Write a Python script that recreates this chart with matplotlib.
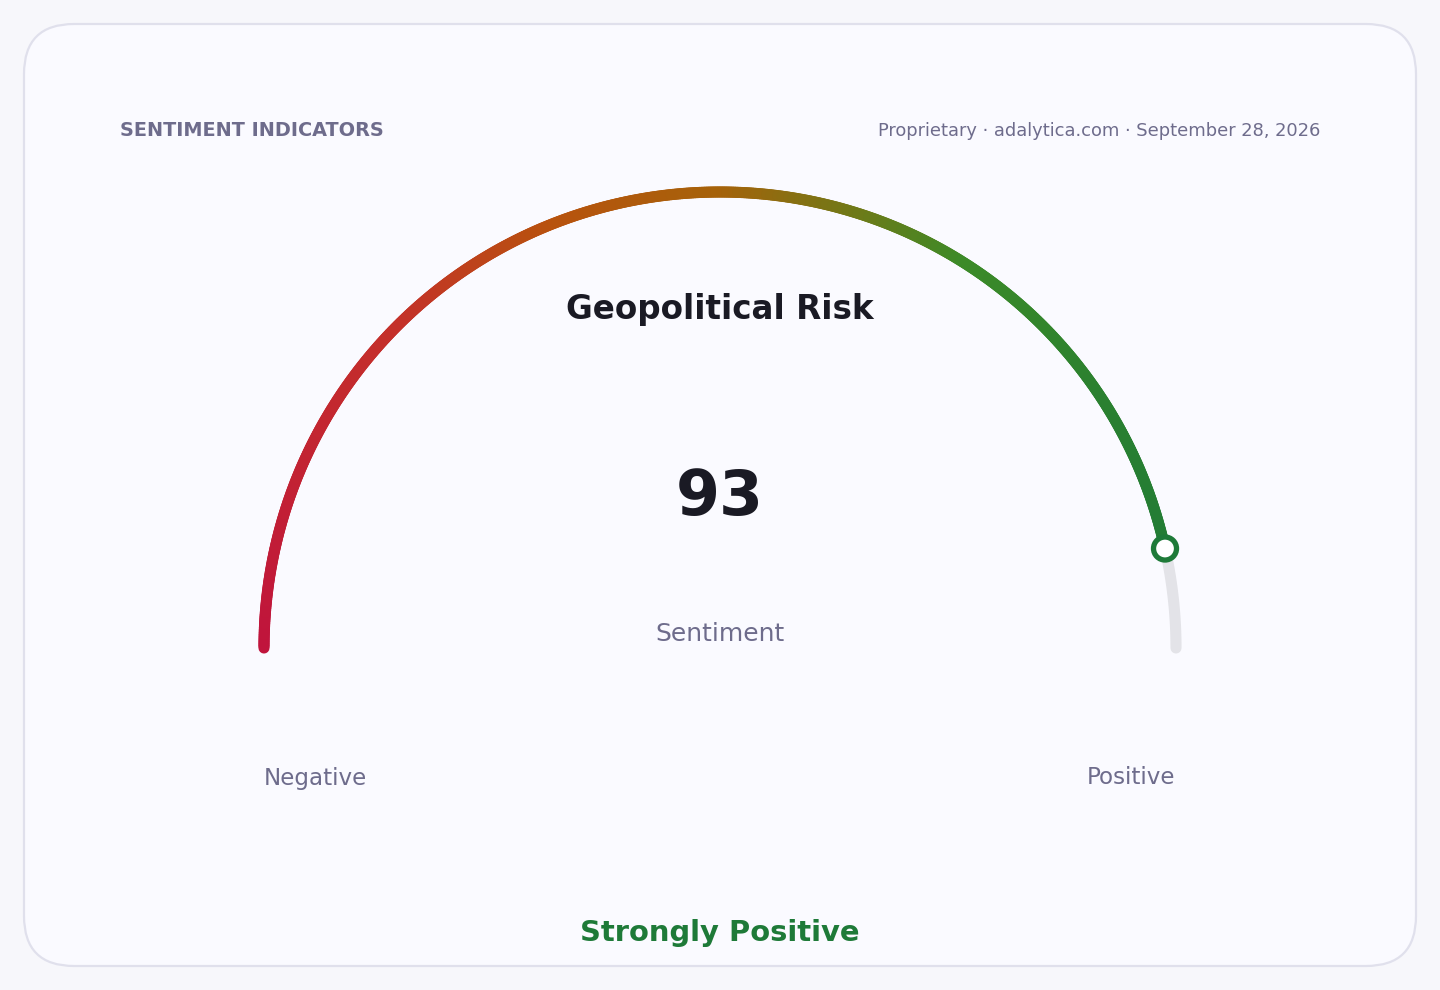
import matplotlib
matplotlib.use("Agg")
import matplotlib.pyplot as plt
import numpy as np
from matplotlib.patches import FancyBboxPatch, Circle
from matplotlib.collections import LineCollection
from matplotlib.colors import LinearSegmentedColormap

plt.rcParams['font.family'] = ['DejaVu Sans']

title = "Geopolitical Risk"
value = 93
vmin, vmax = 0, 100
label_low = "Negative"
label_high = "Positive"
verdict = "Strongly Positive"
header_left = "SENTIMENT INDICATORS"
header_right = "Proprietary · adalytica.com · September 28, 2026"

W, H = 1440, 990
fig = plt.figure(figsize=(W / 100, H / 100), dpi=100)
fig.patch.set_facecolor('#f7f7fb')
ax = fig.add_axes([0, 0, 1, 1])
ax.set_xlim(0, W)
ax.set_ylim(H, 0)
ax.axis('off')

# card
card = FancyBboxPatch((24, 24), 1392, 942, boxstyle="round,pad=0,rounding_size=50",
                      facecolor='#fafaff', edgecolor='#e0e0ec', linewidth=1.6)
ax.add_patch(card)

cx, cy, r = 720, 648, 456
frac = (value - vmin) / (vmax - vmin)
a_end = np.pi * (1 - frac)

# grey track (rest of the range)
t = np.linspace(a_end, 0, 100)
ax.plot(cx + r * np.cos(t), cy - r * np.sin(t), color='#e3e3e8', lw=8,
        solid_capstyle='round', zorder=2)

# gradient value arc, colour by position along the half circle
cmap = LinearSegmentedColormap.from_list(
    'sent', [(0, '#c0143c'), (0.25, '#c4302a'), (0.38, '#b8520e'), (0.5, '#a6620a'),
             (0.6, '#6e7a18'), (0.68, '#3c8a28'), (0.82, '#2a8030'), (1.0, '#1e7a38')])
t = np.linspace(np.pi, a_end, 600)
px = cx + r * np.cos(t)
py = cy - r * np.sin(t)
pts = np.column_stack([px, py]).reshape(-1, 1, 2)
segs = np.concatenate([pts[:-1], pts[1:]], axis=1)
pos = (np.pi - t[:-1]) / np.pi
lc = LineCollection(segs, colors=cmap(pos), linewidths=8, capstyle='round', zorder=3)
ax.add_collection(lc)

# marker
ax.add_patch(Circle((px[-1], py[-1]), 11.5, facecolor='white', edgecolor='#1e7a38',
                    linewidth=3.8, zorder=4))

ax.text(120, 131, header_left, fontsize=13.9, fontweight='bold', color='#6e6c8c',
        ha='left', va='center')
ax.text(1320, 131, header_right, fontsize=12.9, color='#6e6c8c', ha='right', va='center')

ax.text(720, 310, title, fontsize=23.5, fontweight='bold', color='#1a1a24',
        ha='center', va='center')
ax.text(720, 498, str(value), fontsize=45.5, fontweight='bold', color='#1a1a24',
        ha='center', va='center')
ax.text(720, 634, "Sentiment", fontsize=18, color='#6e6c8c', ha='center', va='center')

ax.text(315, 778, label_low, fontsize=16.6, color='#6e6c8c', ha='center', va='center')
ax.text(1131, 778, label_high, fontsize=16.6, color='#6e6c8c', ha='center', va='center')

ax.text(720, 933, verdict, fontsize=20.9, fontweight='bold', color='#1e7a38',
        ha='center', va='center')

fig.savefig('out.png', dpi=100, facecolor=fig.get_facecolor())
